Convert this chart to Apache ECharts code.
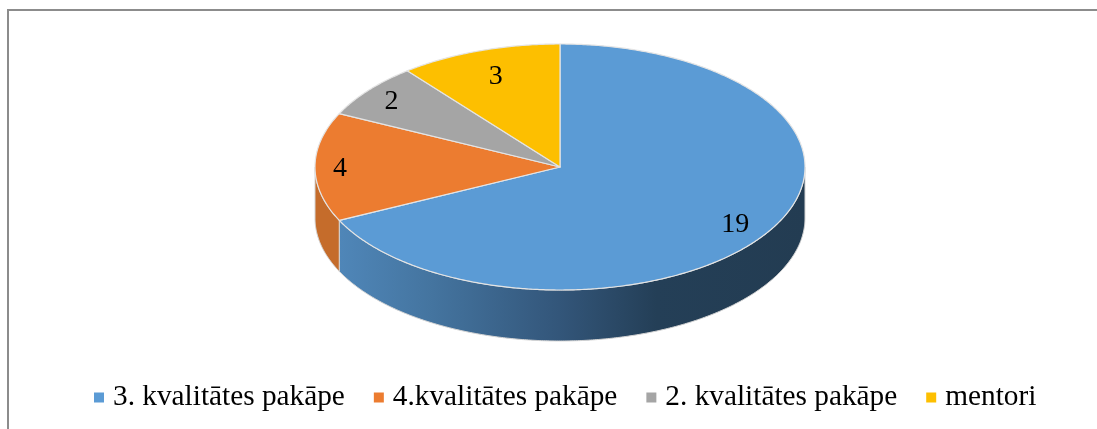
<!DOCTYPE html>
<html><head><meta charset="utf-8">
<style>html,body{margin:0;padding:0;background:#fff}#c{width:1097px;height:429px}</style>
<script src="https://cdn.jsdelivr.net/npm/echarts@6/dist/echarts.min.js"></script>
</head><body><div id="c"></div>
<script>
const categories = ['3. kvalitātes pakāpe', '4.kvalitātes pakāpe', '2. kvalitātes pakāpe', 'mentori'];
const values = [19, 4, 2, 3];
const colors = ['#5B9BD5', '#EC7C30', '#A5A5A5', '#FDBF00'];

const total = values.reduce((a, b) => a + b, 0);
const CX = 560, CY = 167, RX = 245, RY = 123, DEPTH = 51;
const labelRadius = [0.845, 0.898, 0.88, 0.795];
const pt = (deg, f, dy) => {
  const t = deg * Math.PI / 180;
  return [CX + RX * f * Math.sin(t), CY + (dy || 0) - RY * f * Math.cos(t)];
};
const arc = (a, b, dy) => {
  const out = [], n = Math.max(2, Math.ceil(Math.abs(b - a) * 2));
  for (let i = 0; i <= n; i++) out.push(pt(a + (b - a) * i / n, 1, dy));
  return out;
};
const sideFill = {
  0: new echarts.graphic.LinearGradient(340, 0, 805, 0, [
    {offset: 0, color: '#4F86B8'}, {offset: 0.2, color: '#44749F'},
    {offset: 0.47, color: '#33567A'}, {offset: 0.68, color: '#243F57'},
    {offset: 1, color: '#233C52'}], true),
  1: '#C56C2B', 2: '#7C7C7C', 3: '#BF9000'
};

function makeRender(idx) {
  return function (params, api) {
    const before = values.slice(0, idx).reduce((a, b) => a + b, 0);
    const a0 = before / total * 360;
    const a1 = a0 + api.value(0) / total * 360;
    const mid = (a0 + a1) / 2;
    const children = [];
    const s0 = Math.max(a0, 90), s1 = Math.min(a1, 270);
    if (s1 > s0) {
      children.push({
        type: 'polygon', z2: 1,
        shape: {points: arc(s0, s1, 0).concat(arc(s1, s0, DEPTH))},
        style: {fill: sideFill[idx], stroke: '#D4D4D4', lineWidth: 1}
      });
    }
    children.push({
      type: 'polygon', z2: 5,
      shape: {points: [[CX, CY]].concat(arc(a0, a1, 0))},
      style: {fill: colors[idx], stroke: '#E4E4E4', lineWidth: 1.2, lineJoin: 'round'}
    });
    const lp = pt(mid, labelRadius[idx], 2);
    children.push({
      type: 'text', z2: 10, x: lp[0], y: lp[1],
      style: {text: String(api.value(0)), fill: '#000', align: 'center', verticalAlign: 'middle',
        font: '28px "Liberation Serif"'}
    });
    return {type: 'group', children};
  };
}

const chart = echarts.init(document.getElementById('c'), null, {renderer: 'canvas'});
chart.setOption({
  animation: false,
  backgroundColor: '#fff',
  color: colors,
  legend: {
    left: 89, top: 378, itemWidth: 10, itemHeight: 10, itemGap: 29, icon: 'rect',
    data: categories,
    textStyle: {fontFamily: 'Liberation Serif', fontSize: 29.3, color: '#000', padding: [0, 0, 0, 4]}
  },
  graphic: [
    {type: 'line', shape: {x1: 8, y1: 10, x2: 1097, y2: 10}, style: {stroke: '#8C8C8C', lineWidth: 2}},
    {type: 'line', shape: {x1: 8, y1: 9, x2: 8, y2: 429}, style: {stroke: '#8C8C8C', lineWidth: 2}}
  ],
  series: categories.map((name, i) => ({
    type: 'custom', name, coordinateSystem: 'none',
    itemStyle: {color: colors[i]},
    data: [[values[i]]],
    renderItem: makeRender(i),
    silent: true
  }))
});
</script></body></html>
